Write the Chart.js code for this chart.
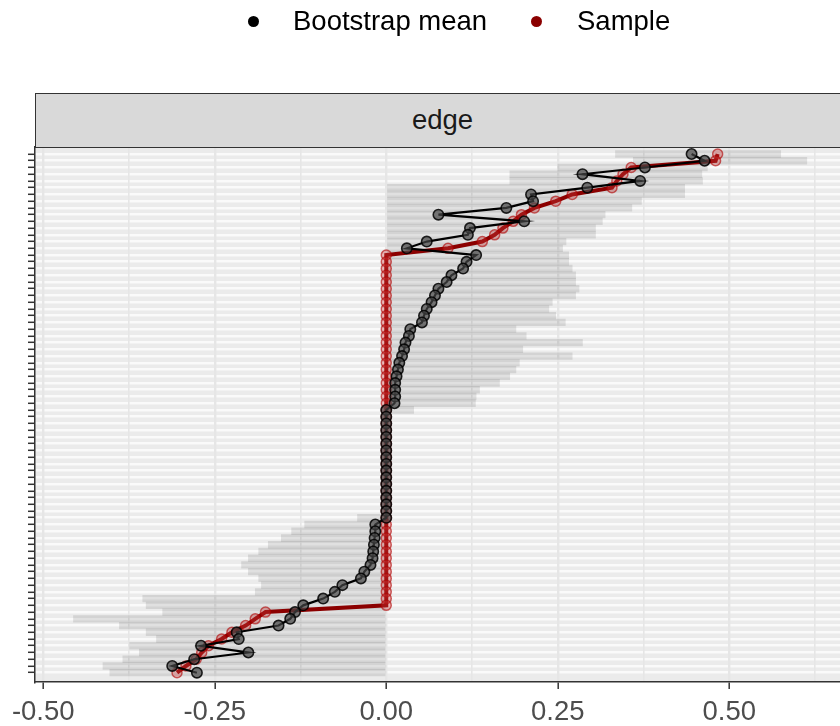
<!DOCTYPE html>
<html>
<head>
<meta charset="utf-8">
<script src="https://cdn.jsdelivr.net/npm/chart.js@4.4.1/dist/chart.umd.min.js"></script>
<style>
html, body { margin:0; padding:0; background:#ffffff; overflow:hidden; width:840px; height:726px; }
#wrap { position:absolute; left:0; top:0; width:850px; height:726px; }
#legend { position:absolute; left:0; top:0; width:840px; height:44px; font-family:"Liberation Sans", Arial, sans-serif; font-size:27.5px; color:#000; }
.dot { position:absolute; width:11px; height:11px; border-radius:50%; }
.lt { position:absolute; line-height:32px; white-space:nowrap; }
#strip { position:absolute; left:35px; top:93px; width:815px; height:54.5px; box-sizing:border-box; border:1.5px solid #333333; background:#D9D9D9; font-family:"Liberation Sans", Arial, sans-serif; font-size:27.5px; color:#1A1A1A; text-align:center; line-height:51px; }
</style>
</head>
<body>
<div id="wrap"><canvas id="c"></canvas></div>
<div id="legend">
  <div class="dot" style="left:247.5px; top:16px; background:#000000;"></div>
  <div class="lt" style="left:293px; top:5px;">Bootstrap mean</div>
  <div class="dot" style="left:530.5px; top:16px; background:#8B0000;"></div>
  <div class="lt" style="left:577px; top:5px;">Sample</div>
</div>
<div id="strip">edge</div>
<script>
// Sample edge weights, sorted (top edge first)
const sampleValues = [
  0.483, 0.480, 0.357, 0.345, 0.336, 0.329, 0.271, 0.247, 0.216, 0.197,
  0.185, 0.170, 0.158, 0.140, 0.090, 0, 0, 0, 0, 0,
  0, 0, 0, 0, 0, 0, 0, 0, 0, 0,
  0, 0, 0, 0, 0, 0, 0, 0, 0, 0,
  0, 0, 0, 0, 0, 0, 0, 0, 0, 0,
  0, 0, 0, 0, 0, 0, 0, 0, 0, 0,
  0, 0, 0, 0, 0, 0, 0, 0, -0.176, -0.191,
  -0.205, -0.225, -0.240, -0.259, -0.269, -0.277, -0.292, -0.305
];
// Bootstrap means per edge
const bootMeans = [
  0.445, 0.464, 0.377, 0.286, 0.370, 0.293, 0.211, 0.214, 0.175, 0.076,
  0.201, 0.122, 0.119, 0.059, 0.030, 0.131, 0.117, 0.112, 0.095, 0.088,
  0.076, 0.071, 0.066, 0.059, 0.055, 0.052, 0.035, 0.033, 0.028, 0.026,
  0.023, 0.019, 0.017, 0.015, 0.013, 0.013, 0.013, 0.012, 0, 0,
  0, 0, 0, 0, 0, 0, 0, 0, 0, 0,
  0, 0, 0, 0, 0, -0.016, -0.016, -0.017, -0.018, -0.019,
  -0.020, -0.023, -0.032, -0.037, -0.064, -0.075, -0.092, -0.121, -0.133, -0.140,
  -0.157, -0.218, -0.215, -0.270, -0.201, -0.280, -0.312, -0.276
];
// Bootstrap CI lower bound per edge
const ciLower = [
  0.334, 0.360, 0.250, 0.180, 0.180, 0, 0, 0, 0, 0,
  0, 0, 0, 0, 0, 0, 0, 0, 0, 0,
  0, 0, 0, 0, 0, 0, 0, 0, 0, 0,
  0, 0, 0, 0, 0, 0, 0, 0, 0, 0,
  0, 0, 0, 0, 0, 0, 0, 0, 0, 0,
  0, 0, 0, 0, -0.042, -0.119, -0.138, -0.153, -0.172, -0.186,
  -0.201, -0.211, -0.201, -0.186, -0.182, -0.191, -0.355, -0.350, -0.326, -0.456,
  -0.389, -0.350, -0.335, -0.374, -0.360, -0.384, -0.413, -0.403
];
// Bootstrap CI upper bound per edge
const ciUpper = [
  0.575, 0.613, 0.468, 0.460, 0.461, 0.435, 0.435, 0.372, 0.358, 0.319,
  0.315, 0.305, 0.305, 0.262, 0.257, 0.266, 0.266, 0.271, 0.276, 0.276,
  0.281, 0.276, 0.242, 0.237, 0.247, 0.261, 0.189, 0.204, 0.286, 0.199,
  0.271, 0.194, 0.189, 0.180, 0.165, 0.136, 0.131, 0.130, 0.040, 0,
  0, 0, 0, 0, 0, 0, 0, 0, 0, 0,
  0, 0, 0, 0, 0, 0, 0, 0, 0, 0,
  0, 0, 0, 0, 0, 0, 0, 0, 0, 0,
  0, 0, 0, 0, 0, 0, 0, 0
];
const xMajorTicks = [-0.5, -0.25, 0, 0.25, 0.5];
const xMinorBreaks = [-0.375, -0.125, 0.125, 0.375, 0.625];
const legendLabels = ['Bootstrap mean', 'Sample'];

const edgeRank = sampleValues.map((_, i) => i);
const allXTicks = xMajorTicks.concat(xMinorBreaks).sort((a, b) => a - b);
const isMajor = v => xMajorTicks.indexOf(v) !== -1;

const ciData = edgeRank.map(i => ({ y: i, x: [ciLower[i], ciUpper[i]] }));
const sampleData = edgeRank.map(i => ({ y: i, x: sampleValues[i] }));
const bootData = edgeRank.map(i => ({ y: i, x: bootMeans[i] }));

const panelBg = {
  id: 'panelBg',
  beforeDraw(chart) {
    const a = chart.chartArea, ctx = chart.ctx;
    ctx.save();
    ctx.fillStyle = '#EBEBEB';
    ctx.fillRect(a.left, a.top, a.right - a.left, a.bottom - a.top);
    ctx.restore();
  }
};

new Chart(document.getElementById('c'), {
  type: 'bar',
  plugins: [panelBg],
  data: {
    datasets: [
      {
        type: 'bar', label: 'CI', data: ciData, order: 3,
        backgroundColor: 'rgba(0,0,0,0.10)', borderWidth: 0,
        barPercentage: 1.0, categoryPercentage: 1.0, inflateAmount: 0.3
      },
      {
        type: 'line', label: legendLabels[1], data: sampleData, order: 2,
        borderColor: '#8B0000', borderWidth: 4, tension: 0,
        pointRadius: 5, pointBorderWidth: 1.5,
        pointBackgroundColor: 'rgba(205,60,60,0.35)', pointBorderColor: 'rgba(175,0,0,0.6)'
      },
      {
        type: 'line', label: legendLabels[0], data: bootData, order: 1,
        borderColor: '#000000', borderWidth: 2.2, tension: 0,
        pointRadius: 5.2, pointBorderWidth: 1.6,
        pointBackgroundColor: 'rgba(70,70,70,0.7)', pointBorderColor: 'rgba(0,0,0,0.85)'
      }
    ]
  },
  options: {
    indexAxis: 'y',
    responsive: true,
    maintainAspectRatio: false,
    devicePixelRatio: 1,
    animation: false,
    events: [],
    layout: { padding: { top: 147, left: 28, right: 0, bottom: 0 } },
    plugins: { legend: { display: false }, tooltip: { enabled: false }, title: { display: false } },
    scales: {
      x: {
        type: 'linear', min: -0.512, max: 0.666, offset: false,
        afterBuildTicks: s => { s.ticks = allXTicks.map(v => ({ value: v })); },
        afterFit: s => { s.height = 44; },
        ticks: {
          autoSkip: false, maxRotation: 0, padding: 9.5, color: '#4D4D4D',
          font: { family: '"Liberation Sans", Arial, sans-serif', size: 27.5, lineHeight: 1 },
          callback: v => isMajor(v) ? v.toFixed(2) : ''
        },
        grid: {
          z: -1, color: '#E6E6E6',
          lineWidth: c => (c.tick && isMajor(c.tick.value)) ? 2.4 : 1.6,
          drawTicks: true, tickLength: 7, tickWidth: 1.5,
          tickColor: c => (c.tick && isMajor(c.tick.value)) ? '#333333' : 'rgba(0,0,0,0)'
        },
        border: { display: true, color: '#333333', width: 1.5 }
      },
      y: {
        type: 'linear', reverse: true, min: -1.04, max: 78.38, offset: false,
        afterBuildTicks: s => { s.ticks = edgeRank.map(v => ({ value: v })); },
        afterFit: s => { s.width = 7; },
        ticks: { display: false },
        grid: {
          z: -2, offset: false, color: '#FAFAFA', lineWidth: 2.6,
          drawTicks: true, tickLength: 7, tickWidth: 1.5, tickColor: '#333333'
        },
        border: { display: true, color: '#333333', width: 1.5 }
      }
    }
  }
});
</script>
</body>
</html>
